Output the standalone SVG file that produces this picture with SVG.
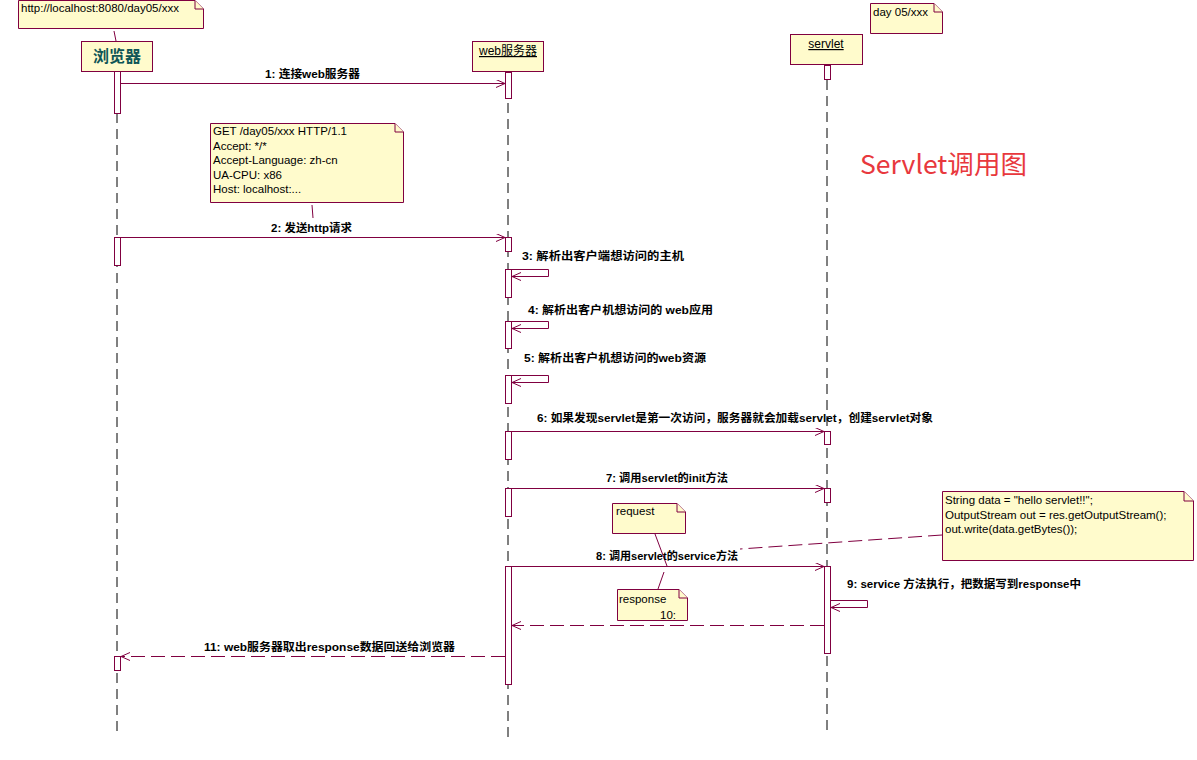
<svg xmlns="http://www.w3.org/2000/svg" width="1197" height="760" viewBox="0 0 1197 760">
<style>
.obj{fill:#fffbcc;stroke:#800040;stroke-width:1}
.note{fill:#fffbcc;stroke:#800040;stroke-width:1}
.act{fill:#ffffff;stroke:#800040;stroke-width:1}
.life{stroke:#000;stroke-width:1;stroke-dasharray:10,6;fill:none}
.msg{stroke:#800040;stroke-width:1;fill:none}
.ret{stroke:#800040;stroke-width:1;fill:none;stroke-dasharray:14,6}
.anc{stroke:#800040;stroke-width:1;fill:none}
.lbl{font-family:"Liberation Sans","Noto Sans CJK SC",sans-serif;font-size:11px;font-weight:bold;fill:#000}
.nt{font-family:"Liberation Sans","Noto Sans CJK SC",sans-serif;font-size:11.5px;fill:#000}
.on{font-family:"Liberation Sans","Noto Sans CJK SC",sans-serif;font-size:12px;fill:#000;text-decoration:underline}
</style>
<defs>
<marker id="ah" markerUnits="userSpaceOnUse" markerWidth="12" markerHeight="10" refX="9" refY="4" orient="auto">
<path d="M0,0 L9,4 L0,8" fill="none" stroke="#800040" stroke-width="1"/>
</marker>
</defs>
<rect width="1197" height="760" fill="#fff"/>

<g id="lifelines">
<line class="life" x1="117" y1="113" x2="117" y2="737"/>
<line class="life" x1="508" y1="71" x2="508" y2="737"/>
<line class="life" x1="827" y1="64" x2="827" y2="732"/>
</g>

<g id="note-url">
<path class="note" d="M18.5,0.5 H195 L203.5,9 V28.5 H18.5 Z"/>
<path class="note" d="M195,0.5 V9 H203.5"/>
<text class="nt" x="21" y="12">http://localhost:8080/day05/xxx</text>
</g>
<g id="note-day05">
<path class="note" d="M870.5,3.5 H934 L942.5,12 V33.5 H870.5 Z"/>
<path class="note" d="M934,3.5 V12 H942.5"/>
<text class="nt" x="873" y="16">day 05/xxx</text>
</g>

<g id="browser">
<rect class="obj" x="81.5" y="41.5" width="71" height="30"/>
<text x="117" y="62" text-anchor="middle" font-family="'Noto Sans CJK SC',sans-serif" font-size="16" font-weight="bold" fill="#0e5656">浏览器</text>
</g>
<g id="webserver">
<rect class="obj" x="472.5" y="41.5" width="71" height="30"/>
<text class="on" x="508" y="55" text-anchor="middle">web服务器</text>
</g>
<g id="servlet">
<rect class="obj" x="790.5" y="34.5" width="72" height="30"/>
<text class="on" x="826" y="48" text-anchor="middle">servlet</text>
</g>

<g id="activations">
<rect class="act" x="114.5" y="71.5" width="6" height="42"/>
<rect class="act" x="505.5" y="72.5" width="6" height="26"/>
<rect class="act" x="824.5" y="65.5" width="6" height="14"/>
<rect class="act" x="114.5" y="237.5" width="6" height="28"/>
<rect class="act" x="505.5" y="237.5" width="6" height="14"/>
<rect class="act" x="505.5" y="269.5" width="6" height="28"/>
<rect class="act" x="505.5" y="321.5" width="6" height="27"/>
<rect class="act" x="505.5" y="375.5" width="6" height="28"/>
<rect class="act" x="505.5" y="431.5" width="6" height="28"/>
<rect class="act" x="824.5" y="431.5" width="6" height="13"/>
<rect class="act" x="505.5" y="488.5" width="6" height="28"/>
<rect class="act" x="824.5" y="488.5" width="6" height="14"/>
<rect class="act" x="505.5" y="566.5" width="6" height="118"/>
<rect class="act" x="824.5" y="566.5" width="6" height="87"/>
<rect class="act" x="114.5" y="656.5" width="6" height="14"/>
</g>

<g id="note-get">
<path class="note" d="M210.5,123.5 H395 L403.5,132 V202.5 H210.5 Z"/>
<path class="note" d="M395,123.5 V132 H403.5"/>
<text class="nt" x="213" y="135">GET /day05/xxx HTTP/1.1</text>
<text class="nt" x="213" y="150">Accept: */*</text>
<text class="nt" x="213" y="164">Accept-Language: zh-cn</text>
<text class="nt" x="213" y="179">UA-CPU: x86</text>
<text class="nt" x="213" y="193">Host: localhost:...</text>
</g>

<g id="note-request">
<path class="note" d="M612.5,503.5 H677 L685.5,512 V533.5 H612.5 Z"/>
<path class="note" d="M677,503.5 V512 H685.5"/>
<text class="nt" x="616" y="515">request</text>
</g>
<g id="note-response">
<path class="note" d="M617.5,589.5 H679 L687.5,598 V620.5 H617.5 Z"/>
<path class="note" d="M679,589.5 V598 H687.5"/>
<text class="nt" x="619" y="603">response</text>
<text class="nt" x="660" y="619">10:</text>
</g>
<g id="note-code">
<path class="note" d="M942.5,491.5 H1184 L1193.5,501 V560.5 H942.5 Z"/>
<path class="note" d="M1184,491.5 V501 H1193.5"/>
<text class="nt" x="945" y="504">String data = "hello servlet!!";</text>
<text class="nt" x="945" y="519">OutputStream out = res.getOutputStream();</text>
<text class="nt" x="945" y="533">out.write(data.getBytes());</text>
</g>

<g id="connectors">
<line class="anc" x1="114" y1="31" x2="116" y2="41"/>
<line class="anc" x1="312" y1="205" x2="313" y2="218"/>
<line class="anc" x1="655" y1="534" x2="667" y2="566"/>
<line class="anc" x1="664" y1="572" x2="658" y2="589"/>
<line class="ret" x1="942" y1="535" x2="740" y2="549"/>

<line class="msg" x1="120" y1="83.5" x2="505" y2="83.5" marker-end="url(#ah)"/>
<line class="msg" x1="120" y1="237.5" x2="505" y2="237.5" marker-end="url(#ah)"/>
<path class="msg" d="M511,269.5 H548.5 V276.5 H512" marker-end="url(#ah)"/>
<path class="msg" d="M511,321.5 H548.5 V328.5 H512" marker-end="url(#ah)"/>
<path class="msg" d="M511,375.5 H548.5 V382.5 H512" marker-end="url(#ah)"/>
<line class="msg" x1="511" y1="431.5" x2="824" y2="431.5" marker-end="url(#ah)"/>
<line class="msg" x1="511" y1="488.5" x2="824" y2="488.5" marker-end="url(#ah)"/>
<line class="msg" x1="511" y1="566.5" x2="824" y2="566.5" marker-end="url(#ah)"/>
<path class="msg" d="M830,600.5 H867.5 V607.5 H831" marker-end="url(#ah)"/>
<line class="ret" x1="824" y1="625.5" x2="512" y2="625.5" marker-end="url(#ah)"/>
<line class="ret" x1="505" y1="656.5" x2="121" y2="656.5" marker-end="url(#ah)"/>
</g>

<g id="labels">
<text class="lbl" x="265" y="78" textLength="95" lengthAdjust="spacingAndGlyphs">1: 连接web服务器</text>
<text class="lbl" x="271" y="232" textLength="81" lengthAdjust="spacingAndGlyphs">2: 发送http请求</text>
<text class="lbl" x="522" y="260" textLength="162" lengthAdjust="spacingAndGlyphs">3: 解析出客户端想访问的主机</text>
<text class="lbl" x="528" y="314" textLength="185" lengthAdjust="spacingAndGlyphs">4: 解析出客户机想访问的 web应用</text>
<text class="lbl" x="524" y="362" textLength="182" lengthAdjust="spacingAndGlyphs">5: 解析出客户机想访问的web资源</text>
<text class="lbl" x="537" y="422" textLength="396" lengthAdjust="spacingAndGlyphs">6: 如果发现servlet是第一次访问，服务器就会加载servlet，创建servlet对象</text>
<text class="lbl" x="606" y="482" textLength="122" lengthAdjust="spacingAndGlyphs">7: 调用servlet的init方法</text>
<text class="lbl" x="596" y="560" textLength="142" lengthAdjust="spacingAndGlyphs">8: 调用servlet的service方法</text>
<text class="lbl" x="847" y="588" textLength="234" lengthAdjust="spacingAndGlyphs">9: service 方法执行，把数据写到response中</text>
<text class="lbl" x="204" y="651" textLength="251" lengthAdjust="spacingAndGlyphs">11: web服务器取出response数据回送给浏览器</text>
</g>

<text id="title" x="860" y="174" font-family="'Noto Sans CJK SC',sans-serif" font-size="26" fill="#e8383d" textLength="167" lengthAdjust="spacingAndGlyphs">Servlet调用图</text>
</svg>
